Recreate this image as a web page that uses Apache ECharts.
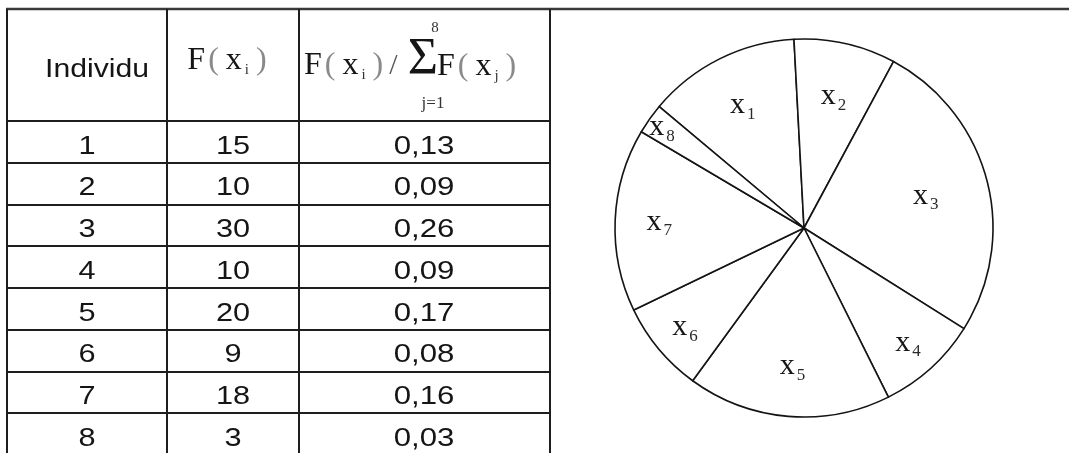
<!DOCTYPE html>
<html>
<head>
<meta charset="utf-8">
<title>Roulette</title>
<script src="https://cdn.jsdelivr.net/npm/echarts@6/dist/echarts.min.js"></script>
<style>
    html, body { margin: 0; padding: 0; background: #fff; }
    #chart { width: 1069px; height: 453px; }
</style>
</head>
<body>
<div id="chart"></div>
<script>
// values
const individus = [1, 2, 3, 4, 5, 6, 7, 8];
const fitness = [15, 10, 30, 10, 20, 9, 18, 3];
const ratios = ['0,13', '0,09', '0,26', '0,09', '0,17', '0,08', '0,16', '0,03'];
const headerLabel = 'Individu';

(function (echarts) {
    'use strict';

    const chart = echarts.init(document.getElementById('chart'));

    // table layout
    const colEdges = [7, 167, 299, 550];
    const tableTop = 9;
    const headerBottom = 121;
    const rowH = 41.75;
    const bottom = 453;

    // pie layout
    const pieCenter = [804, 228];
    const pieRadius = 189;
    const startAngle = 140;
    const labelRadii = [134, 132, 123, 152, 136, 152, 142, 171];

    const sans = 'Liberation Sans';
    const serif = 'Liberation Serif';
    const ink = '#151515';

    const graphic = [];

    const line = function (x1, y1, x2, y2, color, width) {
        graphic.push({
            type: 'line',
            silent: true,
            shape: {x1: x1, y1: y1, x2: x2, y2: y2},
            style: {stroke: color || '#1e1e1e', lineWidth: width || 2}
        });
    };

    const text = function (x, y, str, opts) {
        opts = opts || {};
        graphic.push({
            type: 'text',
            silent: true,
            x: x,
            y: y,
            scaleX: opts.scaleX || 1,
            style: {
                text: str,
                fontFamily: opts.family || sans,
                fontSize: opts.size || 26,
                fill: opts.color || ink,
                align: opts.align || 'center',
                verticalAlign: 'middle',
                rich: opts.rich
            }
        });
    };

    // grid lines of the table
    line(colEdges[0] - 1, tableTop, 1069, tableTop, '#3a3a3a', 2.5);
    colEdges.forEach(function (x) {
        line(x, tableTop, x, bottom);
    });
    line(colEdges[0], headerBottom, colEdges[3], headerBottom);
    for (let i = 1; i < individus.length; i++) {
        const y = Math.round(headerBottom + i * rowH);
        line(colEdges[0], y, colEdges[3], y);
    }

    // header
    const mathRich = {
        f: {fontFamily: serif, fontSize: 32, fill: ink},
        p: {fontFamily: serif, fontSize: 32, fill: '#8a8a8a'},
        po: {fontFamily: serif, fontSize: 32, fill: '#8a8a8a', padding: [0, 7, 0, 3]},
        x: {fontFamily: serif, fontSize: 32, fill: ink},
        i: {fontFamily: serif, fontSize: 15, fill: '#333', padding: [18, 7, 0, 3]},
        s: {fontFamily: serif, fontSize: 30, fill: '#555', padding: [0, 0, 0, 6]}
    };
    text(97, 70, headerLabel, {scaleX: 1.16});
    text(227, 61, '{f|F}{po|(}{x|x}{i|i}{p|)}', {rich: mathRich});
    text(304, 66, '{f|F}{po|(}{x|x}{i|i}{p|)}{s|/}', {rich: mathRich, align: 'left'});
    text(423, 60, 'Σ', {family: serif, size: 52});
    text(435, 28, '8', {family: serif, size: 15, color: '#333'});
    text(433, 104, 'j=1', {family: serif, size: 17, color: '#333'});
    text(437, 67, '{f|F}{po|(}{x|x}{i|j}{p|)}', {rich: mathRich, align: 'left'});

    // rows
    const colMid = [87, 233, 424];
    individus.forEach(function (ind, i) {
        const y = headerBottom + (i + 0.5) * rowH + 4.5;
        text(colMid[0], y, String(ind), {scaleX: 1.18});
        text(colMid[1], y, String(fitness[i]), {scaleX: 1.18});
        text(colMid[2], y, ratios[i], {scaleX: 1.2});
    });

    const sliceRich = {
        x: {fontFamily: serif, fontSize: 30, color: ink},
        s: {fontFamily: serif, fontSize: 17, color: '#2a2a2a', padding: [18, 0, 0, 2]}
    };

    const series = [{
        type: 'pie',
        silent: true,
        center: pieCenter,
        radius: [0, pieRadius],
        startAngle: startAngle,
        clockwise: true,
        avoidLabelOverlap: false,
        itemStyle: {color: '#ffffff', borderColor: '#141414', borderWidth: 1.6},
        label: {show: false},
        labelLine: {show: false},
        emphasis: {disabled: true},
        data: fitness.map(function (v, i) {
            return {value: v, name: 'x' + individus[i]};
        })
    }];

    // one transparent ring per slice so each label sits at its own distance
    labelRadii.forEach(function (r, k) {
        series.push({
            type: 'pie',
            silent: true,
            center: pieCenter,
            radius: [r - 14, r + 14],
            startAngle: startAngle,
            clockwise: true,
            avoidLabelOverlap: false,
            itemStyle: {color: 'rgba(0,0,0,0)', borderWidth: 0},
            label: {
                show: true,
                position: 'inside',
                formatter: function (p) {
                    return '{x|x}{s|' + individus[p.dataIndex] + '}';
                },
                rich: sliceRich
            },
            labelLine: {show: false},
            emphasis: {disabled: true},
            data: fitness.map(function (v, i) {
                return {value: v, name: 'x' + individus[i], label: {show: i === k}};
            })
        });
    });

    chart.setOption({
        backgroundColor: '#ffffff',
        animation: false,
        series: series,
        graphic: graphic
    });
})(echarts);
</script>
</body>
</html>
